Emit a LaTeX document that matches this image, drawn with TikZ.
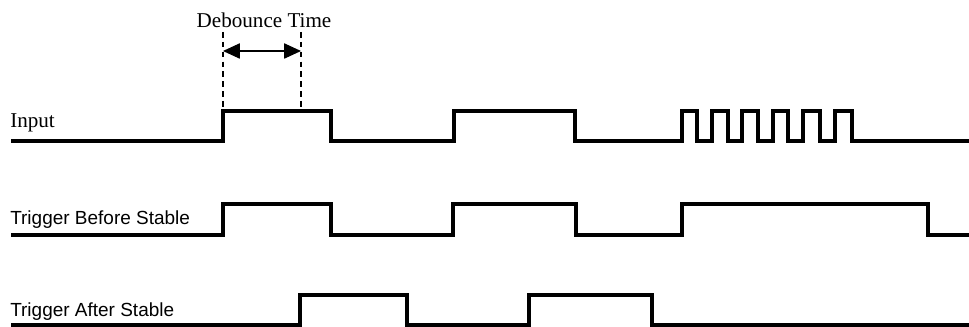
\documentclass[tikz,border=0pt]{standalone}
\usepackage{fontspec}
\setmainfont{Liberation Serif}
\setsansfont{Liberation Sans}
\usetikzlibrary{arrows.meta}

\begin{document}
\begin{tikzpicture}[x=0.025cm,y=-0.025cm,
  wave/.style={line width=2.7pt,line join=miter},
  siglabel/.style={anchor=base west,inner sep=0pt},
  serlabel/.style={siglabel,font=\fontsize{15}{17}\selectfont},
  sanlabel/.style={siglabel,font=\sffamily\fontsize{13.5}{16}\selectfont},
  guide/.style={line width=0.8pt,dash pattern=on 4pt off 3pt},
  dim/.style={line width=0.8pt,{Triangle[length=0.42cm,width=0.38cm]}-{Triangle[length=0.42cm,width=0.38cm]}}]
\useasboundingbox (0,0) rectangle (969,327);

% signal names
\node[serlabel] (input) at (10,128) {Input};
\node[sanlabel] (before) at (10,225) {Trigger Before Stable};
\node[sanlabel] (after) at (10,317) {Trigger After Stable};

% input, with the bouncing pulse at the end
\draw[wave] (11,141) -- (223,141) -- (223,111) -- (331,111) -- (331,141)
  -- (454,141) -- (454,111) -- (575,111) -- (575,141)
  foreach \r/\f in {682/697,712/728,742/758,773/788,803/820,835/852}
    { -- (\r,141) -- (\r,111) -- (\f,111) -- (\f,141) }
  -- (969,141);

% trigger before stable
\draw[wave] (11,235) -- (223,235) -- (223,204) -- (331,204) -- (331,235)
  -- (453,235) -- (453,204) -- (576,204) -- (576,235)
  -- (682,235) -- (682,204) -- (928,204) -- (928,235) -- (969,235);

% trigger after stable
\draw[wave] (11,325) -- (300,325) -- (300,295) -- (407,295) -- (407,325)
  -- (529,325) -- (529,295) -- (652,295) -- (652,325) -- (969,325);

% debounce time
\coordinate (dbL) at (223,32);
\coordinate (dbR) at (301,32);
\draw[guide] (dbL) -- (223,111);
\draw[guide] (dbR) -- (301,111);
\draw[dim] (223,51) -- (301,51);
\node[serlabel,anchor=base] (dbtext) at (264,28) {Debounce Time};
\end{tikzpicture}
\end{document}
